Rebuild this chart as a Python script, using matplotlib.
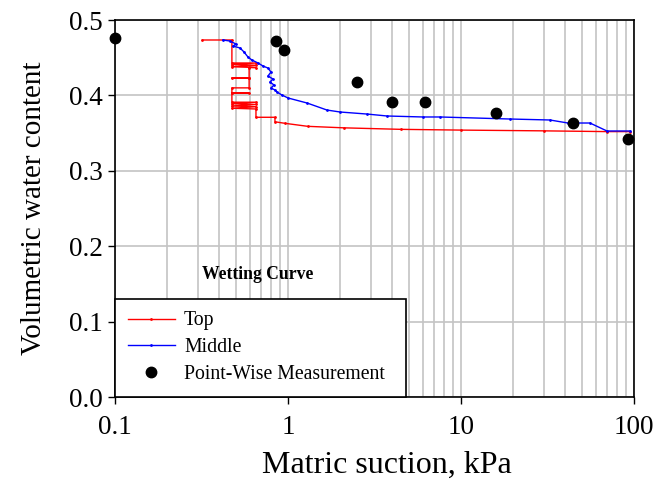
import numpy as np
import matplotlib
matplotlib.use('Agg')
import matplotlib.pyplot as plt
import matplotlib.ticker as tck

plt.rcParams['font.family'] = ['Liberation Serif', 'DejaVu Serif']

# Datos
top_x = [0.32, 0.474, 0.474, 0.653, 0.474, 0.653, 0.474, 0.653, 0.596, 0.596,
         0.474, 0.596, 0.596, 0.474, 0.474, 0.596, 0.474, 0.474, 0.653, 0.474,
         0.653, 0.474, 0.653, 0.474, 0.653, 0.653, 0.841, 0.841, 0.96, 1.3,
         2.1, 4.5, 10, 30, 70, 95]
top_y = [0.4735, 0.4735, 0.443, 0.443, 0.441, 0.440, 0.438, 0.437, 0.437, 0.423,
         0.423, 0.423, 0.410, 0.410, 0.403, 0.403, 0.403, 0.391, 0.391, 0.389,
         0.388, 0.386, 0.385, 0.383, 0.382, 0.371, 0.371, 0.365, 0.363, 0.359,
         0.357, 0.355, 0.354, 0.353, 0.352, 0.352]

mid_x = [0.421, 0.462, 0.500, 0.481, 0.528, 0.557, 0.587, 0.619, 0.671, 0.717,
         0.766, 0.797, 0.766, 0.819, 0.787, 0.830, 0.797, 0.841, 0.864, 0.923,
         1.0, 1.29, 1.68, 2.0, 2.86, 3.74, 6.03, 7.57, 19.2, 32.7,
         41.5, 55.7, 69.8, 94.8]
mid_y = [0.4735, 0.4721, 0.4682, 0.4655, 0.4629, 0.4576, 0.4509, 0.4469, 0.4430, 0.4390,
         0.4363, 0.4310, 0.4257, 0.4218, 0.4178, 0.4138, 0.4098, 0.4072, 0.4045, 0.4005,
         0.3966, 0.3899, 0.3806, 0.3780, 0.3753, 0.3727, 0.3714, 0.3714, 0.3687, 0.3674,
         0.3634, 0.3634, 0.3528, 0.3528]

pw_x = [0.1, 0.853, 0.948, 2.5, 4.0, 6.2, 15.9, 44.4, 92]
pw_y = [0.476, 0.472, 0.460, 0.418, 0.391, 0.391, 0.377, 0.363, 0.342]

fig, ax = plt.subplots(figsize=(6.59, 4.93), dpi=100)
fig.subplots_adjust(left=0.1745, right=0.962, bottom=0.1947, top=0.9594)

ax.plot(top_x, top_y, c='#ff0000', lw=1, marker='.', ms=2, label='Top')
ax.plot(mid_x, mid_y, c='#0000ff', lw=1, marker='.', ms=2, label='Middle')
ax.plot(pw_x, pw_y, ls='none', c='black', marker='o', ms=7.5,
        label='Point-Wise Measurement', clip_on=False, zorder=5)

ax.set_xscale('log')
ax.set_xlim(0.1, 100)
ax.set_ylim(0, 0.5)
ax.set_yticks([0.0, 0.1, 0.2, 0.3, 0.4, 0.5])
ax.yaxis.set_major_formatter(tck.FormatStrFormatter('%.1f'))
ax.set_xticks([0.1, 1, 10, 100])
ax.set_xticklabels(['0.1', '1', '10', '100'])
ax.xaxis.set_minor_locator(tck.LogLocator(base=10, subs=np.arange(2, 10)))
ax.xaxis.set_minor_formatter(tck.NullFormatter())

ax.grid(which='both', axis='x', c='#c4c4c4', lw=1.2)
ax.grid(which='major', axis='y', c='#c4c4c4', lw=1.2)
ax.set_axisbelow(True)

ax.tick_params(which='major', direction='out', length=5, width=1, labelsize=19.5)
ax.tick_params(which='minor', length=0)
ax.tick_params(axis='x', pad=8)
for s in ax.spines.values():
    s.set_linewidth(1.2)

ax.set_xlabel('Matric suction, kPa', fontsize=23, labelpad=8, x=0.524)
ax.set_ylabel('Volumetric water content', fontsize=21, labelpad=16)

ax.text(0.168, 0.324, 'Wetting Curve', transform=ax.transAxes,
        fontsize=12.7, fontweight='bold', va='center', ha='left')

leg = ax.legend(loc='lower left', bbox_to_anchor=(0, 0, 0.561, 0.263), mode='expand',
                borderaxespad=0, fancybox=False, framealpha=1, edgecolor='black',
                fontsize=14.2, handlelength=2.4, handletextpad=0.45, labelspacing=0.4,
                borderpad=0.65)
leg.get_frame().set_linewidth(1.2)

fig.savefig('out.png', dpi=100)
